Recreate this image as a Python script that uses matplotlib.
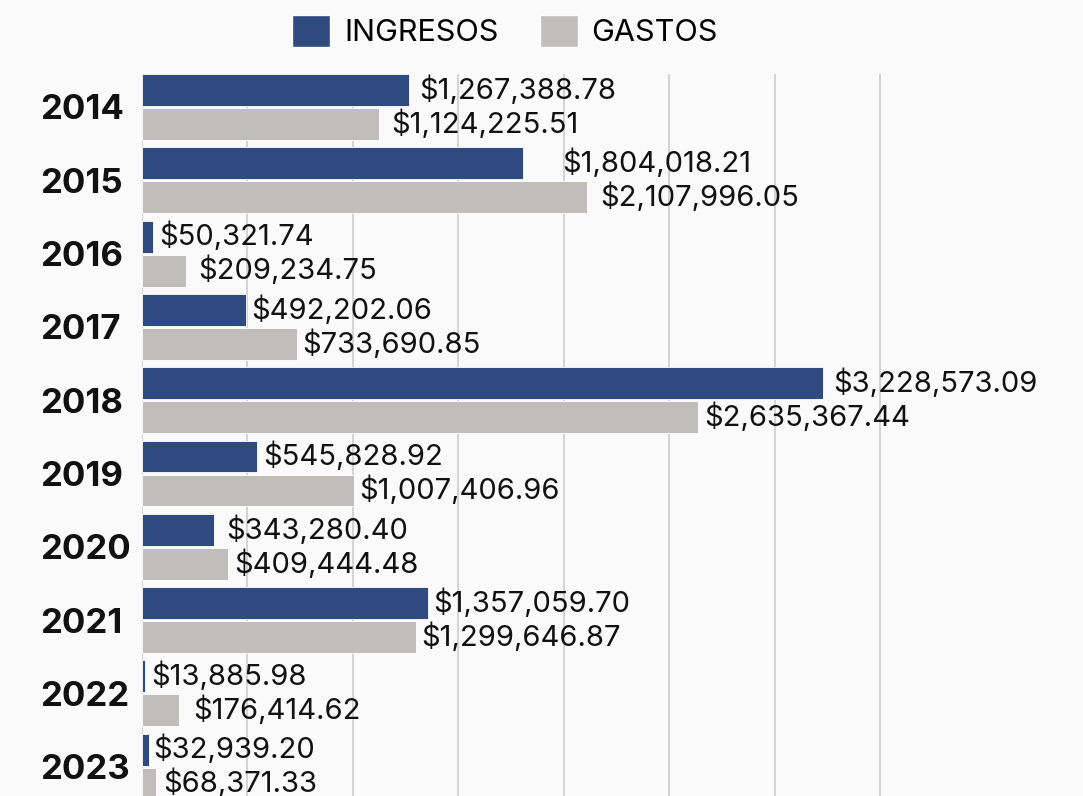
import matplotlib
matplotlib.use('Agg')
import matplotlib.pyplot as plt
import numpy as np
from matplotlib.patches import Patch

# data
years = ['2014', '2015', '2016', '2017', '2018', '2019', '2020', '2021', '2022', '2023']
ingresos = [1267388.78, 1804018.21, 50321.74, 492202.06, 3228573.09,
            545828.92, 343280.40, 1357059.70, 13885.98, 32939.20]
gastos = [1124225.51, 2107996.05, 209234.75, 733690.85, 2635367.44,
          1007406.96, 409444.48, 1299646.87, 176414.62, 68371.33]

# label gap (pixels) after each bar end, as placed in the original
ing_gap = [10, 40, 7, 5, 10, 6, 12, 5, 6, 4]
gas_gap = [12, 14, 12, 5, 6, 5, 6, 5, 14, 7]

BLUE = '#2E4A7E'
GREY = '#BFBEBA'
BG = '#FAFAFA'
FONT = 'Inter'

W, H = 1083, 796
fig = plt.figure(figsize=(W / 100, H / 100), dpi=100, facecolor=BG)
ax = fig.add_axes([142 / W, 0, (933 - 142) / W, (796 - 74) / H])
ax.set_facecolor(BG)

y = np.arange(len(years))
h = 0.435
off = 0.232
ax.barh(y - off, ingresos, height=h, color=BLUE, edgecolor='white', linewidth=0.6, zorder=3)
ax.barh(y + off, gastos, height=h, color=GREY, edgecolor='white', linewidth=0.6, zorder=3)

ax.set_xlim(0, 3.75e6)
ax.set_ylim(9.40, -0.45)
ax.set_xticks(np.arange(0, 3.6e6, 5e5))
ax.xaxis.grid(True, color='#C9C9C9', linewidth=1.1, zorder=0)
ax.tick_params(axis='x', length=0, labelbottom=False)
for s in ax.spines.values():
    s.set_visible(False)

ax.set_yticks(y)
ax.set_yticklabels(years, fontsize=25, fontweight='bold', family=FONT, color='#111111')
ax.tick_params(axis='y', length=0, pad=73)
for lab in ax.get_yticklabels():
    lab.set_horizontalalignment('left')


def money(v):
    return '${:,.2f}'.format(v)


for i in range(len(years)):
    ax.annotate(money(ingresos[i]), (ingresos[i], y[i] - off), xytext=(ing_gap[i] * 0.72, 0),
                textcoords='offset points', va='center', ha='left', fontsize=21,
                family=FONT, color='#111111', zorder=4)
    ax.annotate(money(gastos[i]), (gastos[i], y[i] + off), xytext=(gas_gap[i] * 0.72, 0),
                textcoords='offset points', va='center', ha='left', fontsize=21,
                family=FONT, color='#111111', zorder=4)

# legend at top
handles = [Patch(facecolor=BLUE, edgecolor='white', label='INGRESOS'),
           Patch(facecolor=GREY, edgecolor='white', label='GASTOS')]
fig.legend(handles=handles, loc='center', bbox_to_anchor=(505 / W, 1 - 31 / H), ncol=2,
           frameon=False, prop={'family': FONT, 'size': 22}, handlelength=1.25, handleheight=1.25,
           handletextpad=0.45, columnspacing=1.35)

fig.savefig('out.png', dpi=100, facecolor=BG)
